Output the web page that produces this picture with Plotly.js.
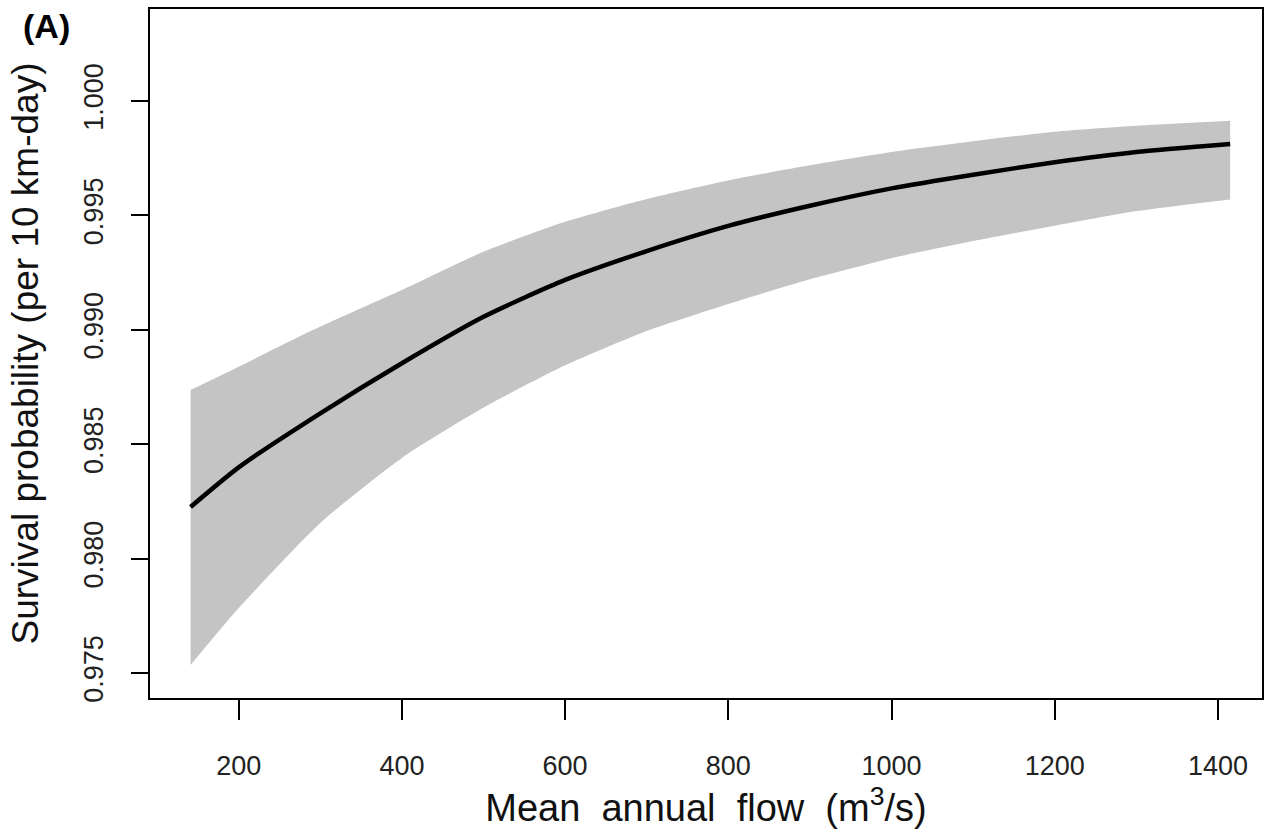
<!DOCTYPE html>
<html>
<head>
<meta charset="utf-8">
<script src="https://cdn.plot.ly/plotly-3.0.1.min.js"></script>
<style>html,body{margin:0;padding:0;background:#fff;}#chart{width:1264px;height:832px;}</style>
</head>
<body>
<div id="chart"></div>
<script>
const flow = [141, 200, 300, 400, 500, 600, 700, 800, 900, 1000, 1100, 1200, 1300, 1415];
const survival = [0.98226, 0.98399, 0.98635, 0.98854, 0.99057, 0.99218, 0.99344, 0.99454, 0.99542, 0.99618, 0.99678, 0.99732, 0.99777, 0.99812];
const upperCI = [0.98737, 0.98839, 0.99014, 0.99174, 0.99341, 0.99472, 0.99572, 0.99653, 0.99719, 0.99777, 0.99824, 0.99866, 0.99892, 0.99914];
const lowerCI = [0.97535, 0.97784, 0.98156, 0.98440, 0.98660, 0.98845, 0.98995, 0.99113, 0.99221, 0.99313, 0.99388, 0.99455, 0.99519, 0.99570];
const xTicks = [200, 400, 600, 800, 1000, 1200, 1400];
const yTicks = [0.975, 0.980, 0.985, 0.990, 0.995, 1.000];
const yTickText = ["0.975", "0.980", "0.985", "0.990", "0.995", "1.000"];

const FONT = "Liberation Sans, Arial, Helvetica, sans-serif";

const traces = [
  {x: flow, y: lowerCI, type: "scatter", mode: "lines", line: {width: 0, shape: "spline", smoothing: 0.6}, hoverinfo: "skip", showlegend: false},
  {x: flow, y: upperCI, type: "scatter", mode: "lines", fill: "tonexty", fillcolor: "#c4c4c4", line: {width: 0, shape: "spline", smoothing: 0.6}, hoverinfo: "skip", showlegend: false},
  {x: flow, y: survival, type: "scatter", mode: "lines", line: {color: "#000", width: 4.5, shape: "spline", smoothing: 0.6}, showlegend: false}
];

const layout = {
  width: 1264, height: 832,
  margin: {l: 150, r: 2, t: 9, b: 134},
  paper_bgcolor: "#fff", plot_bgcolor: "#fff",
  font: {family: FONT, color: "#000"},
  showlegend: false,
  xaxis: {
    range: [91.3, 1454], showgrid: false, zeroline: false,
    showline: true, mirror: true, linecolor: "#000", linewidth: 2,
    ticks: "outside", ticklen: 20, tickwidth: 2, tickcolor: "#000",
    tickvals: xTicks, ticktext: xTicks.map(String),
    tickfont: {size: 27, family: FONT, color: "#222"},
    ticklabelstandoff: 23,
    title: {text: "Mean\u00a0\u00a0annual\u00a0\u00a0flow\u00a0\u00a0(m<sup>3</sup>/s)", font: {size: 38, family: FONT, color: "#111"}, standoff: 10}
  },
  yaxis: {
    range: [0.97391, 1.00402], showgrid: false, zeroline: false,
    showline: true, mirror: true, linecolor: "#000", linewidth: 2,
    ticks: "outside", ticklen: 17, tickwidth: 2, tickcolor: "#000",
    tickvals: yTicks, ticktext: yTickText, tickangle: -90,
    tickfont: {size: 27, family: FONT, color: "#222"},
    ticklabelstandoff: 17,
    title: {text: "Survival probability (per 10 km-day)", font: {size: 37, family: FONT, color: "#111"}, standoff: 29}
  },
  annotations: [
    {text: "<b>(A)</b>", xref: "paper", yref: "paper", x: -0.0935, y: 0.976, xanchor: "center", yanchor: "middle",
     showarrow: false, font: {size: 34, family: FONT, color: "#000"}}
  ]
};

Plotly.newPlot("chart", traces, layout, {displayModeBar: false, staticPlot: true});
</script>
</body>
</html>
